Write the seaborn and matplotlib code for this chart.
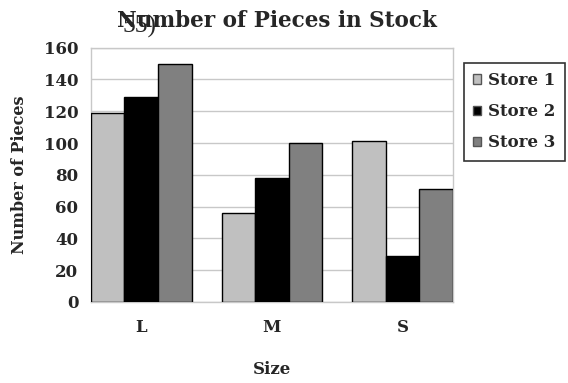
import pandas as pd
import seaborn as sns
import matplotlib.pyplot as plt

sizes = ['L', 'M', 'S']
stores = ['Store 1', 'Store 2', 'Store 3']
store1 = [119, 56, 101]
store2 = [129, 78, 29]
store3 = [150, 100, 71]
colors = ['#C0C0C0', '#000000', '#808080']

df = pd.DataFrame({
    'Size': sizes * 3,
    'Store': [s for s in stores for _ in sizes],
    'Pieces': store1 + store2 + store3,
})

sns.set_theme(style='white')
plt.rcParams['font.family'] = ['DejaVu Serif']
plt.rcParams['font.weight'] = 'bold'

fig = plt.figure(figsize=(5.68, 3.83), dpi=100)
ax = fig.add_axes([0.160, 0.2115, 0.6375, 0.664])

sns.barplot(data=df, x='Size', y='Pieces', hue='Store', palette=colors,
            width=0.77, edgecolor='black', linewidth=1.0, ax=ax, zorder=3)

ax.set_xlim(-0.385, 2.385)
ax.set_ylim(0, 160)
ax.set_yticks(range(0, 161, 20))
ax.yaxis.grid(True, color='#C8C8C8', linewidth=1.0, zorder=0)
for sp in ax.spines.values():
    sp.set_color('#C8C8C8')
    sp.set_linewidth(1.0)
ax.tick_params(axis='both', length=0, labelsize=12)
ax.tick_params(axis='x', pad=12)
ax.tick_params(axis='y', pad=9)
for lbl in ax.get_xticklabels() + ax.get_yticklabels():
    lbl.set_fontweight('bold')

ax.set_xlabel('Size', fontsize=12, fontweight='bold', labelpad=18)
ax.set_ylabel('Number of Pieces', fontsize=11.5, fontweight='bold', labelpad=11)

# title, with the stray question number printed over it as in the scan
fig.text(0.206, 0.945, 'Number of Pieces in Stock', ha='left', va='center',
         fontsize=15.5, fontweight='bold')
fig.text(0.215, 0.93, '55)', ha='left', va='center', fontsize=18.5,
         fontweight='normal', family='Liberation Serif')

leg = ax.legend(loc='upper left', bbox_to_anchor=(1.03, 0.94), frameon=True,
                fancybox=False, edgecolor='black', fontsize=12,
                handlelength=0.5, handleheight=0.5, handletextpad=0.4,
                borderpad=0.55, labelspacing=0.85, borderaxespad=0)
leg.get_frame().set_linewidth(1.2)
for t in leg.get_texts():
    t.set_fontweight('bold')
for h in leg.legend_handles:
    h.set_edgecolor('#555555')
    h.set_linewidth(1.0)

fig.savefig('out.png', dpi=100)
